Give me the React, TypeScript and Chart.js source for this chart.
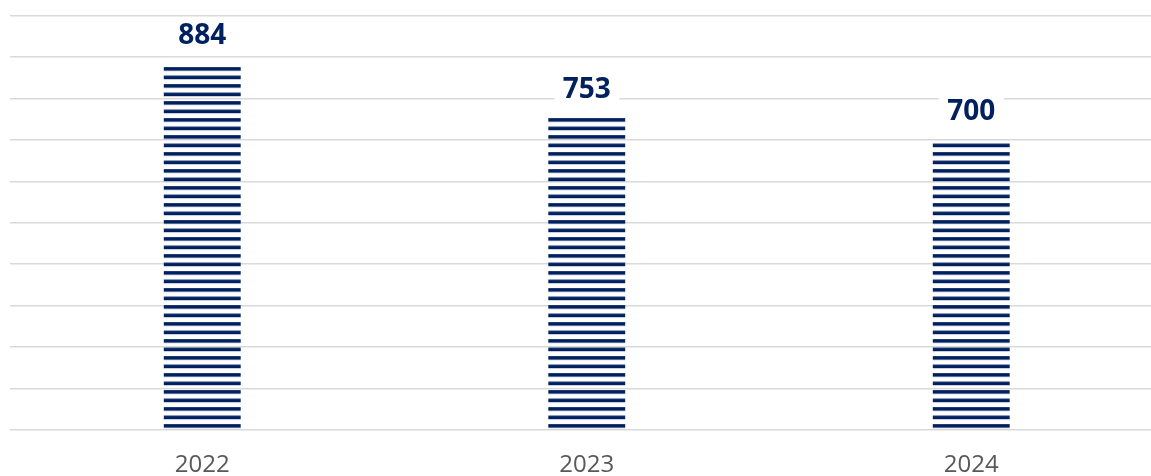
import React, { useEffect, useRef } from "react";
import { Chart, registerables } from "chart.js";

Chart.register(...registerables);

const categories = ["2022", "2023", "2024"];
const values = [884, 753, 700];
const yMin = 0;
const yMax = 1000;
const yStep = 100;

const NAVY = "#002060";

function makeStripePattern(): CanvasPattern | string {
  const tile = document.createElement("canvas");
  tile.width = 4;
  tile.height = 17;
  const c = tile.getContext("2d");
  if (!c) return NAVY;
  c.fillStyle = NAVY;
  c.fillRect(0, 0, 4, 3.6);
  c.fillRect(0, 8.5, 4, 3.6);
  const ctx = document.createElement("canvas").getContext("2d");
  const p = ctx ? ctx.createPattern(tile, "repeat") : null;
  return p || NAVY;
}

export default function App() {
  const ref = useRef<HTMLCanvasElement | null>(null);

  useEffect(() => {
    if (!ref.current) return;
    const pattern = makeStripePattern();

    const patternAlign = {
      id: "patternAlign",
      beforeDatasetsDraw(chart: any) {
        if (typeof pattern === "string") return;
        const base = chart.scales.y.getPixelForValue(0);
        const t = base - 2.3 - 3.6;
        try {
          (pattern as CanvasPattern).setTransform(new DOMMatrix([1, 0, 0, 1, 0, t]));
        } catch (e) {}
      },
    };

    const valueLabels = {
      id: "valueLabels",
      afterDatasetsDraw(chart: any) {
        const ctx = chart.ctx;
        const meta = chart.getDatasetMeta(0);
        ctx.save();
        meta.data.forEach((bar: any, i: number) => {
          const v = chart.data.datasets[0].data[i];
          const cx = bar.x;
          const cy = bar.y - 30;
          ctx.fillStyle = "#ffffff";
          ctx.fillRect(cx - 32.5, cy - 15, 65, 29);
          ctx.font = "bold 28px 'Open Sans'";
          ctx.textAlign = "center";
          ctx.textBaseline = "alphabetic";
          ctx.fillStyle = NAVY;
          ctx.fillText(String(v), cx, cy + 10);
        });
        ctx.restore();
      },
    };

    const chart = new Chart(ref.current, {
      type: "bar",
      data: {
        labels: categories,
        datasets: [
          {
            data: values,
            backgroundColor: pattern as any,
            borderWidth: 0,
            barPercentage: 0.2,
            categoryPercentage: 1,
          },
        ],
      },
      options: {
        animation: false,
        responsive: true,
        maintainAspectRatio: false,
        layout: { padding: { left: 10, right: 1.5, top: 15.5, bottom: 0 } },
        plugins: {
          legend: { display: false },
          tooltip: { enabled: false },
        },
        scales: {
          x: {
            grid: { display: false, drawTicks: false },
            border: { display: false },
            ticks: {
              color: "#595959",
              font: { family: "'Open Sans'", size: 24 },
              padding: 20.6,
            },
          },
          y: {
            min: yMin,
            max: yMax,
            ticks: { display: false, stepSize: yStep },
            grid: { color: "#d9d9d9", lineWidth: 1.5, drawTicks: false },
            border: { display: false },
          },
        },
      },
      plugins: [patternAlign, valueLabels],
    });
    return () => chart.destroy();
  }, []);

  return (
    <div
      style={{
        position: "absolute",
        left: 0,
        top: 0,
        width: 1151,
        height: 476,
        overflow: "hidden",
        background: "#ffffff",
      }}
    >
      <div style={{ position: "relative", width: 1165, height: 500 }}>
        <canvas ref={ref} />
      </div>
    </div>
  );
}
